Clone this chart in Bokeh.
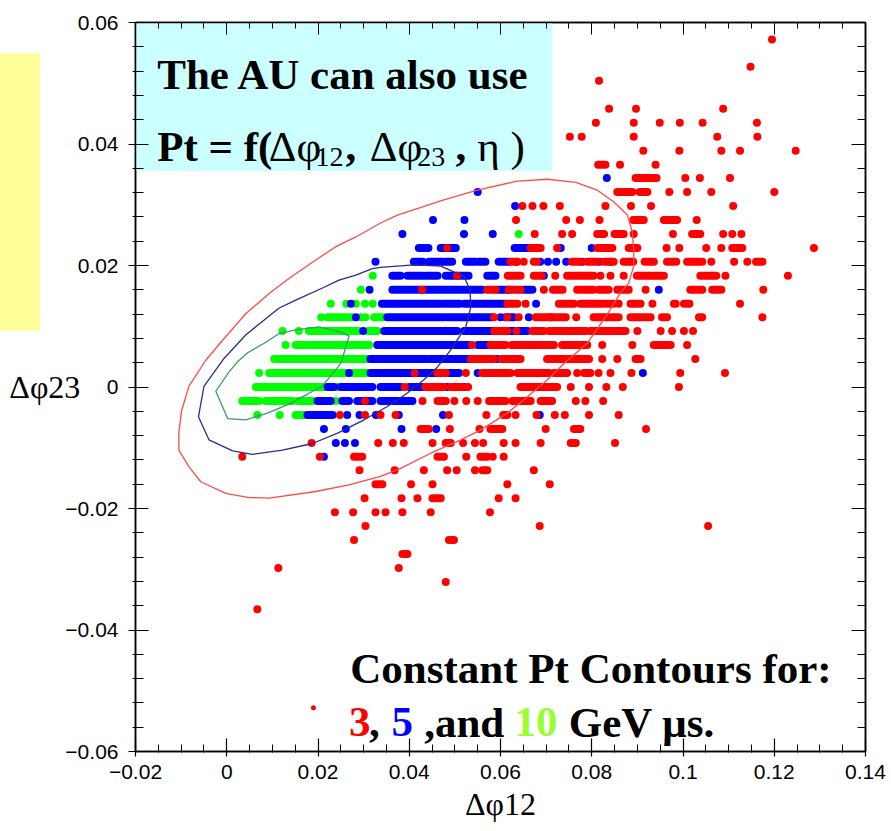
from bokeh.plotting import figure
from bokeh.models import (Range1d, FixedTicker, Label, BoxAnnotation, LinearAxis,
                          ColumnDataSource, CustomJSTickFormatter, InlineStyleSheet)
from bokeh.embed import file_html
from bokeh.resources import INLINE

# ---------------- data (Δφ12 values in units of 1e-3, rows at Δφ23 values) -------------
MILLI = 1e-3

# each row: (Δφ23, [single dots or (start, end) runs of overlapping dots])
RED_ROWS = [
    (0.0572, [119.5]),
    (0.0527, [114.8]),
    (0.0504, [81.6]),
    (0.0458, [83.8, 89.7, 108.8]),
    (0.0435, [80.9, 89.2, 94.9, 99.3, 104.3, 116.2]),
    (0.0412, [75.2, 77.8, 89.2, 107.5, 116.3]),
    (0.0389, [91.3, 99.2, 108.4, 112.5, 124.7]),
    (0.0366, [(81.4, 83.0), 86.2, 94.0]),
    (0.0344, [(89.6, 94.2), 100.5, 103.7, 110.3]),
    (0.0321, [(85.6, 88.9), (90.5, 92.2), 97.0, 100.9, 106.2, 120.0]),
    (0.0298, [64.8, 67.0, 69.4, 73.0, 83.0, 88.6, 93.0, 111.0]),
    (0.0275, [63.4, 74.4, 77.4, 81.7, (89.1, 91.4), (95.8, 98.7), 103.0]),
    (0.0252, [67.5, 73.5, 75.7, (81.2, 82.7), (85.0, 87.0), 89.2, 97.8, (102.0, 103.8),
              108.8, 110.8, 112.8]),
    (0.0229, [48.3, (66.6, 68.8), 72.4, (81.2, 84.5), (88.1, 90.0), 96.4, 99.2, 105.1,
              108.4, (110.8, 113.0), 128.7]),
    (0.0206, [(62.2, 63.7), 65.1, (67.3, 68.0), (75.7, 77.5), (79.0, 81.2), (82.7, 84.8),
              (87.0, 89.1), (91.6, 93.6), (96.5, 98.5), (100.9, 104.2), 106.2, 111.2,
              114.1, (116.0, 117.4)]),
    (0.0183, [50.5, (61.6, 64.4), (67.3, 69.0), 72.0, (74.6, 80.4), 81.9, 84.1, 87.0,
              (89.9, 95.8), (103.8, 107.3), 109.3, 123.0]),
    (0.0160, [42.8, (57.1, 58.9), (61.8, 64.4), 69.5, (71.5, 73.6), (76.8, 80.4),
              (81.6, 83.7), (85.6, 88.1), 91.8, (101.6, 104.2), (106.4, 108.4), 117.6]),
    (0.0137, [(61.5, 63.7), 65.5, (72.8, 76.1), (77.5, 82.5), (83.3, 84.8), 85.9,
              (88.5, 90.7), 93.3, (98.0, 98.4), (100.2, 101.4), 112.5]),
    (0.0115, [58.6, 61.5, 64.0, (67.7, 74.3), 76.6, (80.4, 85.9), (88.5, 92.9),
              (95.4, 96.5), (103.5, 104.2), 117.4]),
    (0.0092, [(58.6, 61.5), 63.5, (67.0, 69.5), (70.6, 78.8), (79.7, 87.4), 90.0, 95.1,
              97.6, 100.2, 102.2]),
    (0.0069, [53.8, (57.8, 61.1), (62.4, 71.7), (73.5, 79.0), 82.3, 88.9, (93.6, 97.3),
              100.9]),
    (0.0046, [(53.5, 58.5), (60.2, 64.4), (70.2, 79.4), 82.3, 85.6, (89.6, 90.7), 102.7]),
    (0.0023, [41.2, (46.2, 48.0), 52.4, (56.0, 62.2), (63.7, 70.6), (71.7, 74.6), 76.8,
              (78.3, 79.7), 81.5, 84.1, 88.7, 99.4, 109.2]),
    (0.0, [39.0, (43.5, 47.5), (49.1, 51.6), 52.9, (64.4, 72.4), 75.4, 79.4, 83.2, 86.8,
           99.1]),
    (-0.0023, [30.3, 42.9, (46.2, 48.0), 49.9, 52.5, 55.0, (57.5, 61.1), (62.6, 66.6),
               (68.8, 71.3), 76.5, 78.6, 82.5]),
    (-0.0046, [24.8, 30.3, 33.7, 37.0, 48.7, 56.9, (60.6, 61.5), 63.3, 67.9, 71.9, 74.1,
               79.4, 85.9]),
    (-0.0069, [(42.5, 44.3), 48.9, 55.4, (57.8, 60.4), 69.9, (76.1, 77.5), 91.9]),
    (-0.0092, [18.6, 33.2, 36.4, 38.8, 45.1, (48.0, 49.1), 51.8, 54.4, 56.2, 60.7, 63.3,
               68.8, (75.4, 76.5), 85.1]),
    (-0.0115, [3.4, 20.4, (27.9, 29.7), (46.2, 47.6), 52.5, (55.6, 57.1), 58.3, 60.7]),
    (-0.0137, [29.1, 36.8, 43.2, 48.3, 50.4, 54.4, (56.0, 57.1), 67.3]),
    (-0.0160, [(32.6, 34.1), 40.4, 45.1, 61.5, 70.8]),
    (-0.0183, [30.2, 38.3, 41.8, (45.1, 46.9), 59.6, 63.3]),
    (-0.0206, [23.7, 27.7, 32.6, 34.8, 38.5, 44.7, 57.7]),
    (-0.0229, [30.4, 68.6, 105.5]),
    (-0.0252, [27.9, (48.7, 49.8)]),
    (-0.0275, [(38.5, 39.6)]),
    (-0.0298, [11.3, 37.7]),
    (-0.0321, [48.0]),
    (-0.0366, [6.7]),
]

BLUE_ROWS = [
    (0.0344, [83.3]),
    (0.0321, [55.0]),
    (0.0298, [63.2]),
    (0.0275, [45.2, 52.1]),
    (0.0252, [38.5, 52.0, 58.3]),
    (0.0229, [(42.1, 44.2), (46.9, 50.2), (63.1, 65.9), 73.2, 80.0]),
    (0.0206, [32.6, (41.0, 42.9), (44.3, 47.2), (47.8, 49.4), (52.4, 54.5), (55.3, 56.7),
              (59.6, 61.8), 63.5, 68.7, 70.4, 72.2, 74.4, 77.9, 81.7, 84.1]),
    (0.0183, [(36.3, 38.1), (39.6, 42.9), (43.6, 46.2), (48.0, 53.0), (57.1, 58.9), 69.5]),
    (0.0160, [31.3, (36.3, 56.0), (59.3, 61.8), (65.1, 67.0), 94.7]),
    (0.0137, [27.2, (34.0, 46.9), (47.6, 51.0), (52.0, 61.0), 67.8]),
    (0.0115, [28.3, (35.2, 47.6), (48.3, 55.0), (55.5, 58.2), 60.0, (61.1, 62.9), 66.2,
              71.0]),
    (0.0092, [29.9, (34.5, 50.5), (52.0, 58.6), (61.8, 65.9)]),
    (0.0069, [(33.0, 53.0), (55.0, 57.5)]),
    (0.0046, [(31.5, 44.0), (44.7, 53.5), 59.3]),
    (0.0023, [26.8, (31.5, 40.7), (41.8, 46.2), (48.7, 50.9), 55.0, 91.2]),
    (0.0, [(22.1, 23.5), (25.0, 31.9), (33.7, 38.1), (40.0, 42.9), 48.3, 52.1]),
    (-0.0023, [(19.9, 22.8), (25.3, 26.8), (28.6, 31.9), (33.7, 40.7)]),
    (-0.0046, [(17.7, 23.2), 26.4, 29.1, 32.7, 37.7, 47.4, 68.6]),
    (-0.0069, [21.3, 26.1, 38.3, 45.9]),
    (-0.0092, [23.9, 25.9, 28.1]),
    (-0.0115, [21.3]),
]

GREEN_ROWS = [
    (0.0252, [64.0]),
    (0.0183, [32.0]),
    (0.0160, [29.4]),
    (0.0137, [22.8, 26.2, 28.3, 30.3, 32.0]),
    (0.0115, [20.7, (22.1, 27.5), 29.4, 30.4, (32.3, 34.4)]),
    (0.0092, [12.2, 15.8, (18.0, 28.9), (31.0, 33.0)]),
    (0.0069, [12.9, (15.1, 31.2)]),
    (0.0046, [(10.4, 31.0)]),
    (0.0023, [7.1, (9.3, 26.1), (27.2, 30.8)]),
    (0.0, [(6.4, 22.1), 24.2]),
    (-0.0023, [(3.4, 7.1), (8.5, 14.4), (15.5, 18.8), 23.9]),
    (-0.0046, [6.7, 11.6, (15.1, 17.3)]),
]

# constant-Pt contours (x in 1e-3, y in 1e-3)
RED_CONTOUR_X = [-4.6, -0.9, 4.2, 9.3, 13.7, 19.5, 23.9, 28.3, 33.7, 37.4, 47.6, 54.9, 63.7,
                 70.3, 76.5, 81.2, 84.8, 87.8, 88.9, 89.2, 89.2, 88.1, 86.3, 83.0, 79.0, 74.3,
                 70.3, 65.9, 61.5, 55.6, 51.3, 44.7, 38.1, 33.7, 26.8, 19.5, 9.3, 4.9, -0.2,
                 -5.7, -8.3, -10.5, -10.5, -9.9, -8.3, -4.6]
RED_CONTOUR_Y = [4.4, 7.7, 12.1, 15.4, 17.9, 20.9, 23.1, 24.7, 27.0, 28.3, 30.8, 32.4, 33.9,
                 34.2, 33.7, 32.4, 30.5, 28.3, 25.5, 22.6, 19.9, 17.1, 15.5, 11.5, 7.2, 4.1,
                 1.2, -1.6, -4.3, -7.1, -8.7, -10.9, -13.4, -14.7, -16.1, -17.2, -18.3, -18.2,
                 -17.5, -15.6, -13.1, -10.4, -7.6, -3.9, 0.1, 4.4]
BLUE_CONTOUR_X = [-0.6, 4.2, 7.8, 11.5, 15.1, 21.0, 24.6, 28.3, 31.9, 33.7, 41.0, 46.9, 52.0,
                  53.3, 53.5, 52.4, 49.1, 46.2, 43.2, 39.6, 35.2, 30.1, 24.3, 18.8, 12.2, 5.6,
                  1.3, -3.9, -6.2, -5.0, -0.6]
BLUE_CONTOUR_Y = [4.7, 8.6, 10.8, 13.0, 14.3, 16.3, 17.6, 18.4, 19.5, 19.7, 20.1, 19.9, 18.2,
                  16.0, 13.2, 9.9, 6.1, 3.3, 1.2, -1.0, -3.2, -5.4, -7.6, -9.3, -10.4, -11.1,
                  -10.5, -8.7, -4.9, 0.1, 4.7]
GREEN_CONTOUR_X = [11.5, 15.1, 20.2, 24.6, 26.8, 25.7, 25.0, 21.0, 14.0, 8.9, 4.2, 0.2, -2.4,
                   0.5, 2.3, 4.5, 8.2, 11.5]
GREEN_CONTOUR_Y = [8.8, 9.4, 9.9, 9.1, 8.4, 5.6, 3.9, 0.2, -2.7, -4.3, -5.4, -5.2, -0.7, 2.5,
                   4.1, 5.6, 7.2, 8.8]

LEGEND_MARK_X = [19.0]
LEGEND_MARK_Y = [-0.0528]

X_TICKS = [-0.02, 0, 0.02, 0.04, 0.06, 0.08, 0.1, 0.12, 0.14]
Y_TICKS = [-0.06, -0.04, -0.02, 0, 0.02, 0.04, 0.06]

RED = "#FF0000"
BLUE = "#0000FF"
GREEN = "#00FF00"


def expand(rows):
    pts = dict(x=[], y=[])
    runs = dict(x0=[], x1=[], y=[])
    for yv, items in rows:
        for it in items:
            if isinstance(it, tuple):
                runs["x0"].append(it[0] * MILLI)
                runs["x1"].append(it[1] * MILLI)
                runs["y"].append(yv)
            else:
                pts["x"].append(it * MILLI)
                pts["y"].append(yv)
    return ColumnDataSource(pts), ColumnDataSource(runs)


# page pixel -> data (for placing text / boxes); frame is x 135..865, y 22..751
def dx(px):
    return (px - 226.25) / 4562.5


def dy(py):
    return (386.5 - py) / 6075.0


p = figure(width=891, height=831, x_range=Range1d(-0.02, 0.14), y_range=Range1d(-0.06, 0.06),
           output_backend="svg", toolbar_location=None,
           min_border_left=135, min_border_right=26, min_border_top=22, min_border_bottom=80,
           background_fill_color="white", border_fill_color="white")
p.xgrid.visible = False
p.ygrid.visible = False
p.outline_line_color = "black"
p.outline_line_width = 1.5

# yellow side panel of the slide (outside the plotting frame)
p.stylesheets = [InlineStyleSheet(css=(
    ":host::after { content: ''; position: absolute; left: 0px; top: 53px; "
    "width: 40px; height: 278px; background: #FFFF99; z-index: 5; pointer-events: none; }"
))]

x_minor = [round(-0.02 + 0.005 * i, 4) for i in range(33)]
y_minor = [round(-0.06 + 0.004 * i, 4) for i in range(31)]

fmt_code = """
if (Math.abs(tick) < 1e-9) return "0";
const s = Number(tick.toPrecision(6)).toString();
return s.replace("-", "\\u2212");
"""

xa = p.xaxis[0]
xa.ticker = FixedTicker(ticks=X_TICKS, minor_ticks=x_minor)
xa.formatter = CustomJSTickFormatter(code=fmt_code)
ya = p.yaxis[0]
ya.ticker = FixedTicker(ticks=Y_TICKS, minor_ticks=y_minor)
ya.formatter = CustomJSTickFormatter(code=fmt_code)

for ax in (xa, ya):
    ax.axis_line_color = "black"
    ax.axis_line_width = 1.5
    ax.major_tick_line_color = "black"
    ax.minor_tick_line_color = "black"
    ax.major_tick_line_width = 1.2
    ax.minor_tick_line_width = 1
    ax.major_label_text_font = "Liberation Sans"
    ax.major_label_text_font_size = "21px"
    ax.major_label_text_color = "black"
    ax.axis_label_text_font = "Liberation Serif"
    ax.axis_label_text_font_size = "32px"
    ax.axis_label_text_font_style = "normal"
    ax.axis_label_text_color = "black"

xa.major_tick_in = 13
xa.major_tick_out = 5
xa.minor_tick_in = 7
xa.minor_tick_out = 1
xa.major_label_standoff = 8
xa.axis_label = "Δφ12"
xa.axis_label_standoff = 4

ya.major_tick_in = 13
ya.major_tick_out = 7
ya.minor_tick_in = 8
ya.minor_tick_out = 3
ya.major_label_standoff = 10
ya.axis_label = "Δφ23"
ya.axis_label_orientation = "horizontal"
ya.axis_label_standoff = -18

empty = CustomJSTickFormatter(code="return '';")
top_ax = LinearAxis(ticker=FixedTicker(ticks=X_TICKS, minor_ticks=x_minor), formatter=empty,
                    major_tick_in=12, major_tick_out=0, minor_tick_in=6, minor_tick_out=0,
                    major_label_text_font_size="1px", major_label_standoff=0,
                    axis_line_color="black", axis_line_width=1.5)
right_ax = LinearAxis(ticker=FixedTicker(ticks=Y_TICKS, minor_ticks=y_minor), formatter=empty,
                      major_tick_in=14, major_tick_out=0, minor_tick_in=8, minor_tick_out=0,
                      major_label_text_font_size="1px", major_label_standoff=0,
                      axis_line_color="black", axis_line_width=1.5)
p.add_layout(top_ax, "above")
p.add_layout(right_ax, "right")

# cyan title box
p.add_layout(BoxAnnotation(left=-0.02, right=dx(552), bottom=dy(170.5), top=0.06,
                           fill_color="#CCFFFF", fill_alpha=1.0, line_color=None,
                           level="underlay"))

# points
for rows, col in ((GREEN_ROWS, GREEN), (BLUE_ROWS, BLUE), (RED_ROWS, RED)):
    pts, runs = expand(rows)
    p.segment(x0="x0", y0="y", x1="x1", y1="y", source=runs, line_color=col, line_width=8,
              line_cap="round")
    p.scatter("x", "y", source=pts, size=8, fill_color=col, line_color=None)

# contours
for cx, cy, col in ((RED_CONTOUR_X, RED_CONTOUR_Y, "#FF4B4B"),
                    (BLUE_CONTOUR_X, BLUE_CONTOUR_Y, "#2B2B8C"),
                    (GREEN_CONTOUR_X, GREEN_CONTOUR_Y, "#3A9A6A")):
    p.line([v * MILLI for v in cx], [v * MILLI for v in cy], line_color=col, line_width=1.3)

# legend marker
p.scatter([v * MILLI for v in LEGEND_MARK_X], LEGEND_MARK_Y, size=5, fill_color=RED,
          line_color=None)


def lab(px, py, text, size="43px", style="bold", color="black", font="Liberation Serif"):
    p.add_layout(Label(x=dx(px), y=dy(py), text=text, text_font=font, text_font_size=size,
                       text_font_style=style, text_color=color, text_align="left",
                       text_baseline="alphabetic"))


# title box
lab(156.7, 74, "The AU can also use")
lab(156.7, 145.7, "Pt = f(")
lab(268.3, 145.7, "Δφ", style="normal")
lab(315, 156.7, "12", size="28px", style="normal")
lab(345, 145.7, ",")
lab(369.3, 145.7, "Δφ", style="normal")
lab(416.7, 156.7, "23", size="28px", style="normal")
lab(455, 145.7, ",")
lab(476.7, 145.7, "η", style="normal")
lab(510, 145.7, ")", style="normal")

# legend text
lab(349.8, 668.3, "Constant Pt Contours for:")
lab(348.6, 721.7, "3", color=RED)
lab(368.5, 721.7, ",")
lab(391.1, 721.7, "5", color=BLUE)
lab(423.7, 721.7, ",and")
lab(513.9, 721.7, "10", color="#99FF33")
lab(568.3, 721.7, "GeV μs.")

open("out.html", "w").write(file_html(p, INLINE))
